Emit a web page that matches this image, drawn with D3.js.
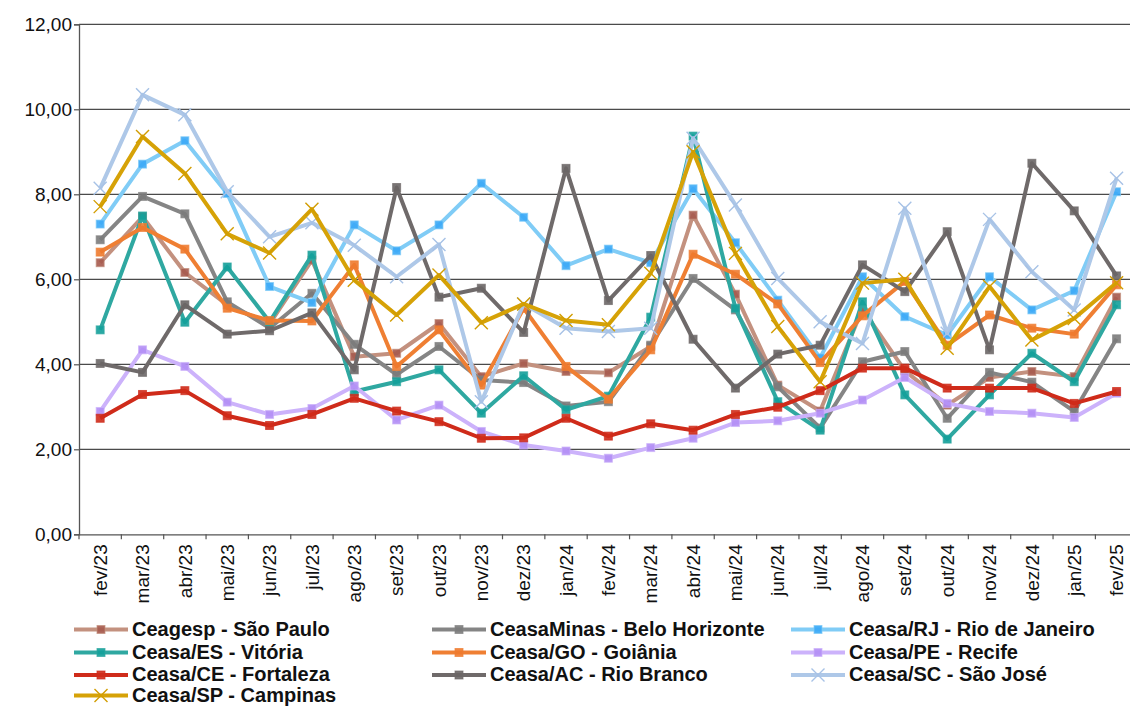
<!DOCTYPE html>
<html>
<head>
<meta charset="utf-8">
<script src="https://cdn.jsdelivr.net/npm/d3@7"></script>
<style>
  body { margin: 0; background: #fff; }
  svg { display: block; font-family: Arial, "Liberation Sans", sans-serif; }
</style>
</head>
<body>
<svg id="chart" width="1130" height="706"></svg>
<script>
// Monthly price series (R$) per wholesale market, fev/23 to fev/25
const months = ["fev/23","mar/23","abr/23","mai/23","jun/23","jul/23","ago/23","set/23","out/23","nov/23","dez/23",
  "jan/24","fev/24","mar/24","abr/24","mai/24","jun/24","jul/24","ago/24","set/24","out/24","nov/24","dez/24","jan/25","fev/25"];
const yTicks = [0, 2, 4, 6, 8, 10, 12];

const ceagespSP   = [6.39,7.47,6.16,5.40,4.95,6.45,4.18,4.26,4.96,3.71,4.02,3.83,3.80,4.42,7.51,5.65,3.51,2.90,5.30,3.85,3.04,3.69,3.83,3.71,5.58];
const ceasaMinas  = [6.93,7.95,7.54,5.47,4.85,5.67,4.47,3.76,4.42,3.63,3.57,3.02,3.12,4.45,6.02,5.28,3.47,2.50,4.06,4.30,2.73,3.81,3.58,2.89,4.60];
const ceasaRJ     = [7.30,8.71,9.26,8.02,5.83,5.45,7.28,6.67,7.28,8.26,7.46,6.32,6.71,6.39,8.13,6.86,5.51,4.15,6.06,5.12,4.69,6.06,5.28,5.73,8.06];
const ceasaES     = [4.81,7.49,4.99,6.29,5.00,6.57,3.36,3.59,3.87,2.85,3.73,2.93,3.25,5.11,9.37,5.32,3.12,2.45,5.47,3.28,2.24,3.28,4.26,3.59,5.40];
const ceasaGO     = [6.64,7.22,6.71,5.32,5.03,5.02,6.34,3.95,4.81,3.51,5.32,3.95,3.18,4.34,6.59,6.12,5.42,4.04,5.14,5.95,4.45,5.16,4.85,4.71,5.87];
const ceasaPE     = [2.89,4.34,3.95,3.11,2.82,2.96,3.49,2.69,3.04,2.42,2.10,1.96,1.79,2.04,2.26,2.63,2.67,2.85,3.16,3.69,3.08,2.89,2.85,2.75,3.32];
const ceasaCE     = [2.73,3.29,3.38,2.79,2.56,2.82,3.20,2.90,2.65,2.26,2.27,2.73,2.31,2.60,2.45,2.82,2.99,3.38,3.91,3.91,3.44,3.44,3.44,3.08,3.36];
const ceasaAC     = [4.02,3.81,5.40,4.71,4.79,5.21,3.87,8.16,5.58,5.79,4.75,8.61,5.50,6.56,4.59,3.44,4.24,4.45,6.34,5.71,7.12,4.34,8.73,7.61,6.08];
const ceasaSC     = [8.14,10.34,9.87,8.06,7.00,7.33,6.80,6.06,6.82,3.12,5.42,4.85,4.77,4.85,9.32,7.75,6.02,5.00,4.49,7.67,4.73,7.41,6.18,5.28,8.38];
const ceasaSP     = [7.71,9.36,8.49,7.07,6.62,7.65,5.98,5.16,6.10,4.98,5.42,5.03,4.93,6.14,9.00,6.61,4.89,3.59,5.91,6.00,4.38,5.83,4.57,5.08,5.92];

const seriesNames = ["Ceagesp - São Paulo","CeasaMinas - Belo Horizonte","Ceasa/RJ - Rio de Janeiro","Ceasa/ES - Vitória",
  "Ceasa/GO - Goiânia","Ceasa/PE - Recife","Ceasa/CE - Fortaleza","Ceasa/AC - Rio Branco","Ceasa/SC - São José","Ceasa/SP - Campinas"];
const seriesValues = [ceagespSP, ceasaMinas, ceasaRJ, ceasaES, ceasaGO, ceasaPE, ceasaCE, ceasaAC, ceasaSC, ceasaSP];

// Visual style per series (line colour, marker colour, marker shape)
const styles = [
  { line: "#c3917f", marker: "#a65a4e", shape: "square" },
  { line: "#858585", marker: "#7b7b7b", shape: "square" },
  { line: "#80ccf6", marker: "#3aa9f7", shape: "square" },
  { line: "#2fa8a1", marker: "#13a09a", shape: "square" },
  { line: "#ef7f33", marker: "#ee7a2e", shape: "square" },
  { line: "#ccb2fb", marker: "#b38ef5", shape: "square" },
  { line: "#cf2b1a", marker: "#cf2b1a", shape: "square" },
  { line: "#6f6a6a", marker: "#6a6666", shape: "square" },
  { line: "#aec8e8", marker: "#a7c2e6", shape: "cross" },
  { line: "#d6a207", marker: "#d29d00", shape: "cross" }
];

const series = seriesNames.map((name, i) => ({ name, values: seriesValues[i], ...styles[i] }));

const svg = d3.select("#chart");
const plotLeft = 79, plotTop = 24.3, plotBottom = 534.3;
const bandW = 42.35;

const x = d3.scaleBand().domain(months).range([plotLeft, plotLeft + bandW * months.length]).padding(0);
const y = d3.scaleLinear().domain([0, 12]).range([plotBottom, plotTop]);
const cx = m => x(m) + x.bandwidth() / 2;

// Horizontal gridlines
svg.append("g").selectAll("line").data(yTicks.filter(d => d > 0)).join("line")
  .attr("x1", plotLeft).attr("x2", x.range()[1])
  .attr("y1", d => y(d)).attr("y2", d => y(d))
  .attr("stroke", "#4a4a4a").attr("stroke-width", 1.2);

// Y axis
const fmt = d => d3.format(".2f")(d).replace(".", ",");
const yAxis = svg.append("g").attr("transform", `translate(${plotLeft},0)`)
  .call(d3.axisLeft(y).tickValues(yTicks).tickFormat(fmt).tickSize(5).tickPadding(2));
yAxis.select(".domain").attr("stroke", "#555").attr("stroke-width", 1.3);
yAxis.selectAll(".tick line").attr("stroke", "#555").attr("stroke-width", 1.2);
yAxis.selectAll("text").attr("font-size", 19).attr("fill", "#111");

// X axis with tick marks at category boundaries
const xAxis = svg.append("g").attr("transform", `translate(0,${plotBottom})`)
  .call(d3.axisBottom(x).tickSize(0).tickSizeOuter(0));
xAxis.select(".domain").attr("stroke", "#555").attr("stroke-width", 1.3);
xAxis.selectAll(".tick text")
  .attr("transform", "rotate(-90)")
  .attr("x", -10).attr("y", 0).attr("dy", "0.35em")
  .attr("text-anchor", "end")
  .attr("font-size", 19).attr("fill", "#111");
xAxis.append("g").selectAll("line").data(months).join("line")
  .attr("x1", d => x(d)).attr("x2", d => x(d))
  .attr("y1", 0).attr("y2", 5)
  .attr("stroke", "#555").attr("stroke-width", 1.2);

// Series lines and markers
const line = d3.line().x((d, i) => cx(months[i])).y(d => y(d));

function drawMarker(g, s, px, py) {
  if (s.shape === "square") {
    g.append("rect")
      .attr("x", px - 4).attr("y", py - 4).attr("width", 8).attr("height", 8)
      .attr("fill", s.marker).attr("fill-opacity", 0.9)
      .attr("stroke", s.line).attr("stroke-width", 1).attr("stroke-opacity", 0.7);
  } else {
    const r = 6.5;
    g.append("path")
      .attr("d", `M${px - r},${py - r}L${px + r},${py + r}M${px - r},${py + r}L${px + r},${py - r}`)
      .attr("stroke", s.marker).attr("stroke-width", 1.4).attr("fill", "none");
  }
}

series.forEach(s => {
  const g = svg.append("g");
  g.append("path").datum(s.values)
    .attr("d", line)
    .attr("fill", "none")
    .attr("stroke", s.line)
    .attr("stroke-width", 4)
    .attr("stroke-linejoin", "round");
  s.values.forEach((v, i) => drawMarker(g, s, cx(months[i]), y(v)));
});

// Legend: three columns
const legendCols = [74, 432, 791];
const legendRows = [629.5, 652.5, 675, 695.5];
const legend = svg.append("g");
series.forEach((s, i) => {
  const col = i % 3, row = Math.floor(i / 3);
  const lx = legendCols[col], ly = legendRows[row];
  const g = legend.append("g");
  g.append("line").attr("x1", lx).attr("x2", lx + 54).attr("y1", ly).attr("y2", ly)
    .attr("stroke", s.line).attr("stroke-width", 4);
  drawMarker(g, s, lx + 27, ly);
  g.append("text").attr("x", lx + 58).attr("y", ly).attr("dy", "0.32em")
    .attr("font-size", 20).attr("font-weight", "bold").attr("fill", "#111")
    .text(s.name);
});
</script>
</body>
</html>
